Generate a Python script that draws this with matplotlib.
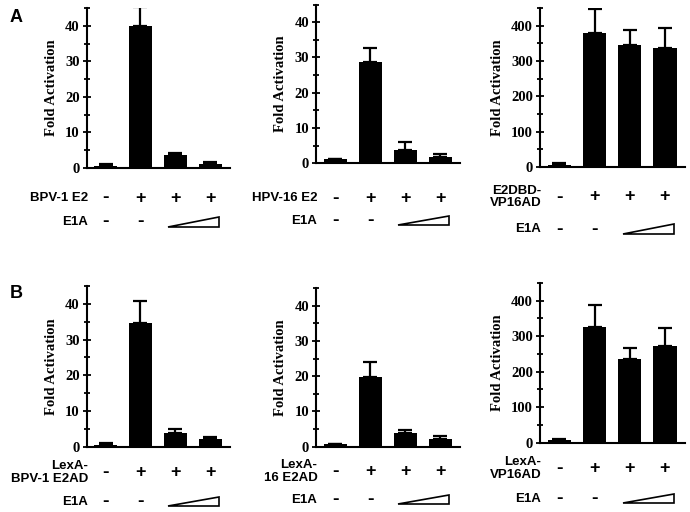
import numpy as np
import matplotlib
matplotlib.use('Agg')
import matplotlib.pyplot as plt
import matplotlib.transforms as mtransforms
from matplotlib.patches import Polygon
from matplotlib.ticker import MultipleLocator

# Datos (4 condiciones por panel)
a1_vals = [0.5, 40.0, 3.6, 1.1]
a1_err = [0.5, 5.2, 0.7, 0.6]
a2_vals = [1.1, 28.8, 3.8, 1.7]
a2_err = [0.1, 3.8, 2.3, 0.9]
a3_vals = [7, 379, 346, 336]
a3_err = [4, 68, 41, 58]
b1_vals = [0.6, 34.6, 3.9, 2.1]
b1_err = [0.5, 6.1, 1.1, 0.7]
b2_vals = [0.8, 19.9, 3.8, 2.1]
b2_err = [0.1, 4.0, 0.9, 1.0]
b3_vals = [8, 327, 237, 273]
b3_err = [3, 62, 29, 49]

activators = ['BPV-1 E2', 'HPV-16 E2', 'E2DBD-\nVP16AD',
              'LexA-\nBPV-1 E2AD', 'LexA-\n16 E2AD', 'LexA-\nVP16AD']
activator_signs = ['-', '+', '+', '+']
e1a_signs = ['-', '-']
ymax = [45, 45, 450, 45, 45, 450]
ymajor = [10, 10, 100, 10, 10, 100]

W, H = 690, 512
fig = plt.figure(figsize=(W / 100, H / 100), dpi=100)

# posiciones de ejes en pixeles: izquierda, derecha, arriba, abajo
boxes = [(86.5, 230, 8, 168), (316, 460, 4.5, 163.3), (540, 685, 8, 167),
         (86.5, 230, 286, 446.7), (316, 460, 288, 446.7), (540, 685, 283, 442.7)]
# desplazamientos (px bajo el eje) para fila activador y fila E1A
rows = [(30, 54), (35, 57.5), (30, 62), (26, 55), (25, 53), (26, 56)]

vals = [a1_vals, a2_vals, a3_vals, b1_vals, b2_vals, b3_vals]
errs = [a1_err, a2_err, a3_err, b1_err, b2_err, b3_err]

serif = 'Liberation Serif'
sans = 'Liberation Sans'

for i in range(6):
    l, r, t, b = boxes[i]
    ax = fig.add_axes([l / W, (H - b) / H, (r - l) / W, (b - t) / H])
    x = np.arange(4)
    ax.bar(x, vals[i], width=0.66, color='black', zorder=2)
    ax.errorbar(x, vals[i], yerr=[np.zeros(4), errs[i]], fmt='none',
                ecolor='black', elinewidth=1.6, capsize=5, capthick=1.6, zorder=1)
    ax.set_xlim(-0.55, 3.57)
    ax.set_ylim(0, ymax[i])
    ax.yaxis.set_major_locator(MultipleLocator(ymajor[i]))
    ax.yaxis.set_minor_locator(MultipleLocator(ymajor[i] / 2))
    ax.spines['top'].set_visible(False)
    ax.spines['right'].set_visible(False)
    ax.spines['left'].set_linewidth(1.5)
    ax.spines['bottom'].set_linewidth(1.5)
    ax.set_xticks([])
    ax.tick_params(axis='y', which='both', direction='inout', width=1.3, pad=2)
    ax.tick_params(axis='y', which='major', length=6)
    ax.tick_params(axis='y', which='minor', length=5)
    for lab in ax.get_yticklabels():
        lab.set_fontfamily(serif)
        lab.set_fontweight('bold')
        lab.set_fontsize(10.5)
    ax.set_ylabel('Fold Activation', fontfamily=serif, fontweight='bold',
                  fontsize=10.5, labelpad=5)

    # filas de etiquetas bajo el grafico
    h = b - t
    y1 = -rows[i][0] / h
    y2 = -rows[i][1] / h
    trans = mtransforms.blended_transform_factory(ax.transData, ax.transAxes)
    ax.text(0.01, y1, activators[i], transform=ax.transAxes, ha='right', va='center',
            multialignment='right', fontfamily=sans, fontweight='bold', fontsize=9.5,
            linespacing=1.05)
    ax.text(0.01, y2, 'E1A', transform=ax.transAxes, ha='right', va='center',
            fontfamily=sans, fontweight='bold', fontsize=9.5)
    for j, s in enumerate(activator_signs):
        ax.text(j, y1, s, transform=trans, ha='center', va='center',
                fontfamily=sans, fontweight='bold', fontsize=13 if s == '+' else 14,
                clip_on=False)
    for j, s in enumerate(e1a_signs):
        ax.text(j, y2, s, transform=trans, ha='center', va='center',
                fontfamily=sans, fontweight='bold', fontsize=14, clip_on=False)
    tri = Polygon([[1.8, y2 - 4.5 / h], [3.25, y2 - 4.5 / h], [3.25, y2 + 5 / h]],
                  closed=True, facecolor='white', edgecolor='black', lw=1.2,
                  transform=trans, clip_on=False)
    ax.add_patch(tri)

fig.text(10 / W, 1 - 17 / H, 'A', fontfamily=sans, fontweight='bold', fontsize=13,
         ha='left', va='center')
fig.text(10 / W, 1 - 293 / H, 'B', fontfamily=sans, fontweight='bold', fontsize=13,
         ha='left', va='center')

fig.savefig('out.png', dpi=100)
